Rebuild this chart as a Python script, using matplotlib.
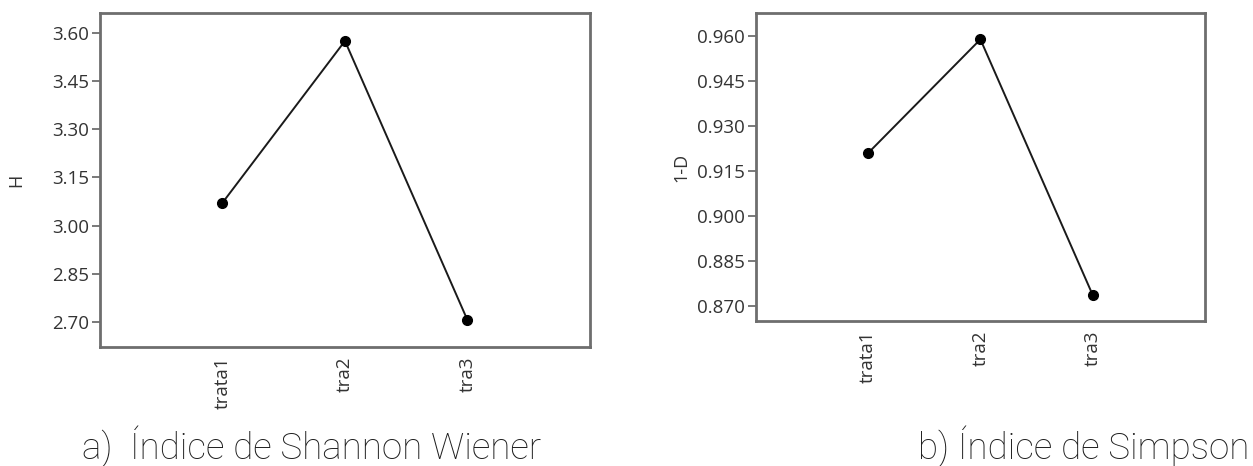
import matplotlib.pyplot as plt
from matplotlib.ticker import FixedLocator, FormatStrFormatter

# diversity indices per treatment
tratamientos = ['trata1', 'tra2', 'tra3']
shannon_H = [3.071, 3.575, 2.706]
simpson_1D = [0.921, 0.9589, 0.8737]

shannon_ticks = [2.70, 2.85, 3.00, 3.15, 3.30, 3.45, 3.60]
simpson_ticks = [0.870, 0.885, 0.900, 0.915, 0.930, 0.945, 0.960]

frame_col = '#6e6e6e'
text_col = '#333333'
tick_font = 'Open Sans'


def Panel(ax, values, ticks, fmt, ylim, ylabel, label_x):
    x = range(1, len(values) + 1)
    ax.plot(x, values, color='#1a1a1a', lw=1.4, marker='o', ms=7,
            markerfacecolor='black', markeredgecolor='black')
    ax.set_xlim(0, 4)
    ax.set_ylim(*ylim)
    ax.set_xticks(list(x))
    ax.set_xticklabels(tratamientos, rotation=90, family=tick_font,
                       fontsize=13.5, color=text_col)
    ax.yaxis.set_major_locator(FixedLocator(ticks))
    ax.yaxis.set_major_formatter(FormatStrFormatter(fmt))
    for lab in ax.get_yticklabels():
        lab.set_family(tick_font)
        lab.set_fontsize(13.5)
        lab.set_color(text_col)
    ax.tick_params(axis='y', direction='out', length=6, width=1.3,
                   color=frame_col, pad=2)
    ax.tick_params(axis='x', length=0, pad=7)
    for s in ax.spines.values():
        s.set_color(frame_col)
        s.set_linewidth(2)
    ax.set_ylabel(ylabel, family=tick_font, fontsize=13, color=text_col)
    ax.yaxis.set_label_coords(label_x, 0.5)


fig = plt.figure(figsize=(12.53, 4.66), dpi=100)
ax1 = fig.add_axes([0.0798, 0.2554, 0.391, 0.7167])
ax2 = fig.add_axes([0.6033, 0.3112, 0.3583, 0.661])

Panel(ax1, shannon_H, shannon_ticks, '%.2f', (2.622, 3.662), 'H', -0.152)
Panel(ax2, simpson_1D, simpson_ticks, '%.3f', (0.865, 0.9677), '1-D', -0.147)

fig.text(0.0655, 0.014, 'a)  Índice de Shannon Wiener', family='Roboto',
         fontweight='light', fontsize=26.5, color='#1e1e1e', va='baseline')
fig.text(0.733, 0.014, 'b) Índice de Simpson', family='Roboto',
         fontweight='light', fontsize=26.5, color='#1e1e1e', va='baseline')

fig.savefig('out.png', dpi=100)
